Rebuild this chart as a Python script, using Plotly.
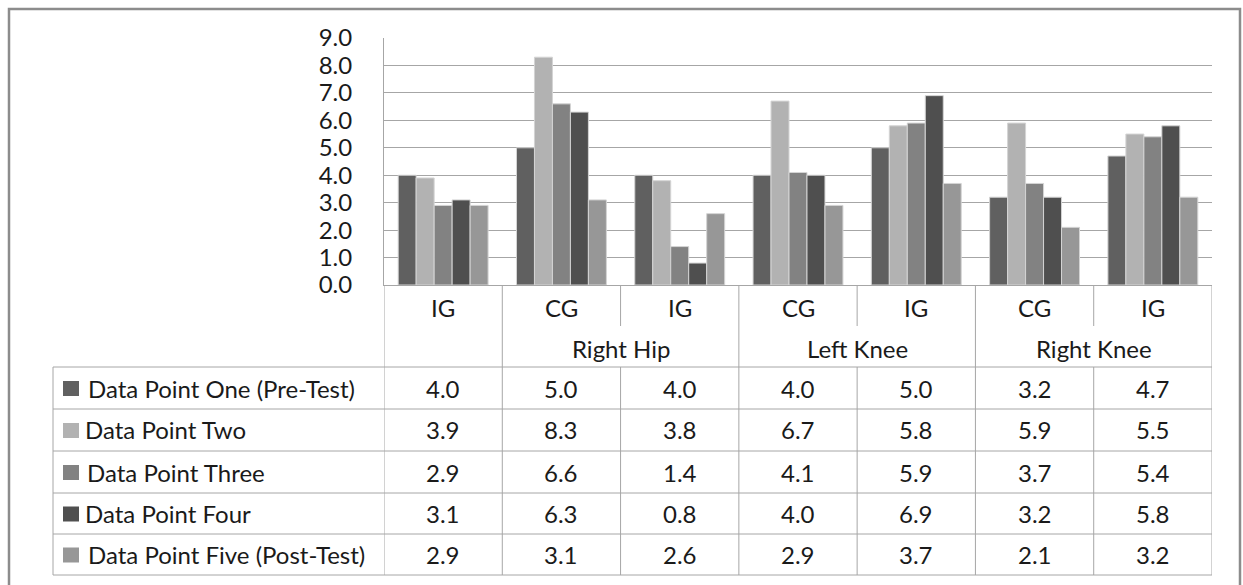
import plotly.graph_objects as go

# ---- data ----
categories = ["IG", "CG", "IG", "CG", "IG", "CG", "IG"]
groups = ["", "Right Hip", "Left Knee", "Right Knee"]
group_spans = [(0, 0), (1, 2), (3, 4), (5, 6)]
series_names = [
    "Data Point One (Pre-Test)",
    "Data Point Two",
    "Data Point Three",
    "Data Point Four",
    "Data Point Five (Post-Test)",
]
dp_one = [4.0, 5.0, 4.0, 4.0, 5.0, 3.2, 4.7]
dp_two = [3.9, 8.3, 3.8, 6.7, 5.8, 5.9, 5.5]
dp_three = [2.9, 6.6, 1.4, 4.1, 5.9, 3.7, 5.4]
dp_four = [3.1, 6.3, 0.8, 4.0, 6.9, 3.2, 5.8]
dp_five = [2.9, 3.1, 2.6, 2.9, 3.7, 2.1, 3.2]
series_values = [dp_one, dp_two, dp_three, dp_four, dp_five]
colors = ["#606060", "#b2b2b2", "#828282", "#4f4f4f", "#979797"]

# ---- geometry (page pixels) ----
W, H = 1243, 585
PL, PR, PT, PB = 384, 1212, 38, 285
FONT = "Lato"
FS = 24
LINE = "#a6a6a6"
TXT = "#1a1a1a"

def fx(p):
    return (p - PL) / (PR - PL)

def fy(p):
    return (PB - p) / (PB - PT)

xs = list(range(len(categories)))
fig = go.Figure()
for name, vals, col in zip(series_names, series_values, colors):
    fig.add_trace(go.Bar(x=xs, y=vals, name=name, marker_color=col,
                         marker_line_color="#d4d4d4", marker_line_width=1,
                         showlegend=False))

shapes = []
annotations = []
# outer border (bottom edge lies beyond the picture)
shapes.append(dict(type="rect", xref="paper", yref="paper",
                   x0=fx(9), x1=fx(1240), y0=fy(9), y1=fy(600),
                   line=dict(color="#8c8c8c", width=2.5)))

row_y = [367, 409, 451, 493, 534, 575]
hdr_mid = 326
n = len(categories)
bounds = [i - 0.5 for i in range(n + 1)]
group_bounds = set([-0.5] + [g[1] + 0.5 for g in group_spans])
for b in bounds:
    if b in group_bounds:
        shapes.append(dict(type="line", xref="x", yref="paper", x0=b, x1=b,
                           y0=fy(PB), y1=fy(row_y[-1]), line=dict(color=LINE, width=1)))
    else:
        shapes.append(dict(type="line", xref="x", yref="paper", x0=b, x1=b,
                           y0=fy(PB), y1=fy(hdr_mid), line=dict(color=LINE, width=1)))
        shapes.append(dict(type="line", xref="x", yref="paper", x0=b, x1=b,
                           y0=fy(row_y[0]), y1=fy(row_y[-1]), line=dict(color=LINE, width=1)))
shapes.append(dict(type="line", xref="paper", yref="paper", x0=fx(53), x1=fx(53),
                   y0=fy(row_y[0]), y1=fy(row_y[-1]), line=dict(color=LINE, width=1)))
for ry in row_y:
    shapes.append(dict(type="line", xref="paper", yref="paper", x0=fx(53), x1=1,
                       y0=fy(ry), y1=fy(ry), line=dict(color=LINE, width=1)))

def ann(x, y, text, xref="x", xanchor="center"):
    return dict(x=x, y=y, xref=xref, yref="paper", text=text, showarrow=False,
                xanchor=xanchor, yanchor="middle", borderpad=0, borderwidth=0,
                font=dict(family=FONT, size=FS, color=TXT))

for i, c in enumerate(categories):
    annotations.append(ann(i, fy(307), c))
for g, (a, b) in zip(groups, group_spans):
    if g:
        annotations.append(ann((a + b) / 2, fy(348), g))

text_x = [88, 85, 87, 85, 88]
for r, (name, vals, col) in enumerate(zip(series_names, series_values, colors)):
    yc = (row_y[r] + row_y[r + 1]) / 2
    shapes.append(dict(type="rect", xref="paper", yref="paper",
                       x0=fx(63), x1=fx(79), y0=fy(yc - 7), y1=fy(yc + 8),
                       fillcolor=col, line=dict(width=0)))
    annotations.append(ann(fx(text_x[r]), fy(yc), name, xref="paper", xanchor="left"))
    for i, v in enumerate(vals):
        annotations.append(ann(i, fy(yc), f"{v:.1f}"))

fig.update_layout(
    width=W, height=H,
    margin=dict(l=PL, r=W - PR, t=PT, b=H - PB, pad=0),
    paper_bgcolor="white", plot_bgcolor="white",
    barmode="group", bargap=0.24, bargroupgap=0,
    shapes=shapes, annotations=annotations,
    font=dict(family=FONT, size=FS, color=TXT),
)
fig.update_xaxes(range=[-0.5, n - 0.5], showticklabels=False, showgrid=False,
                 showline=True, linecolor=LINE, linewidth=1, zeroline=False, fixedrange=True)
fig.update_yaxes(range=[0, 9], dtick=1, tickformat=".1f", showgrid=True, gridcolor=LINE,
                 gridwidth=1, showline=True, linecolor=LINE, linewidth=1, zeroline=False,
                 ticks="", ticklabelstandoff=26, tickfont=dict(family=FONT, size=FS, color=TXT))

fig.write_html(
    "out.html",
    config={"displayModeBar": False},
    post_script="document.body.style.margin='0';document.body.style.overflow='hidden';",
)
